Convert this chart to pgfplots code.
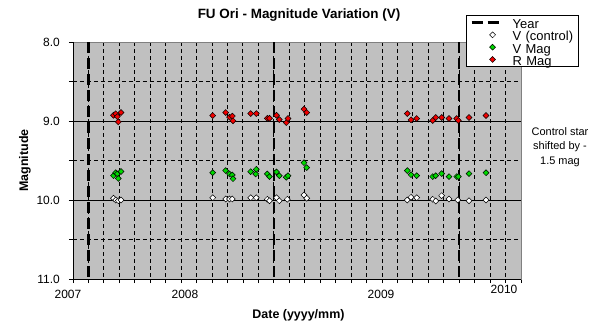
\documentclass[border=0pt]{standalone}
\usepackage{fontspec}
\setmainfont{Liberation Sans}
\usepackage{pgfplots}
\pgfplotsset{compat=1.18}
\definecolor{bggray}{RGB}{192,192,192}
\definecolor{vgreen}{RGB}{0,215,0}
\definecolor{rred}{RGB}{240,0,0}
\definecolor{bordergray}{RGB}{128,128,128}
\pgfplotsset{myleg/.style={legend image code/.code={\draw[mark repeat=2,mark phase=2,##1] plot coordinates {(0bp,0bp) (21bp,0bp) (27bp,0bp)};}}}
\begin{document}
\begin{tikzpicture}
\path[use as bounding box] (-73bp,-45bp) rectangle (525bp,279bp);
\begin{axis}[
  at={(0,0)}, anchor=south west,
  scale only axis, width=448bp, height=237bp,
  xmin=-1, xmax=28, ymin=8, ymax=11, y dir=reverse,
  clip=false,
  axis background/.style={fill=bggray},
  axis line style={draw=bordergray, line width=0.8bp},
  tick align=outside,
  xtick={-1,0,...,28},
  xticklabels={},
  ytick={8,9,10,11},
  yticklabels={8.0,9.0,10.0,11.0},
  minor ytick={8.5,9.5,10.5},
  xmajorgrids, yminorgrids,
  major grid style={black, line width=0.9bp, dash pattern=on 4bp off 3bp},
  minor grid style={black, line width=0.9bp, dash pattern=on 4bp off 3bp},
  extra y ticks={9,10},
  extra y tick labels={},
  extra y tick style={ymajorgrids=true, major grid style={black, solid, line width=0.9bp}},
  major tick length=4bp, minor tick length=4bp,
  tick style={black, line width=0.8bp},
  ytick pos=left, xtick pos=bottom,
  yticklabel style={font=\fontsize{12}{12}\selectfont, inner sep=0pt, anchor=east, xshift=-9bp},
  /pgf/number format/assume math mode=true,
  title={FU Ori - Magnitude Variation (V)},
  title style={font=\bfseries\fontsize{13.5}{13.5}\selectfont, at={(axis description cs:0.5045,1.0759)}, anchor=base, inner sep=0pt},
  xlabel={Date (yyyy/mm)},
  xlabel style={font=\bfseries\fontsize{12.5}{12.5}\selectfont, at={(axis description cs:0.5033,-0.1646)}, anchor=base, inner sep=0pt},
  ylabel={Magnitude},
  ylabel style={font=\bfseries\fontsize{12.5}{12.5}\selectfont, at={(axis description cs:-0.1004,0.5)}, anchor=base, inner sep=0pt},
  legend style={at={(axis description cs:0.8772,1.1139)}, anchor=north west, draw=black, line width=0.8bp, fill=white,
    font=\fontsize{13}{13}\selectfont, inner xsep=4bp, inner ysep=1bp, row sep=0pt, column sep=13bp,
    nodes={inner sep=0pt, text height=12bp, text depth=0.3bp, text width=62bp, align=left}},
  legend cell align=left,
  myleg,
]
\addplot[black, line width=2.3bp, dash pattern=on 11bp off 5bp, myleg] coordinates {(0,8) (0,11)};
\addlegendentry{Year}
\addplot[black, line width=2.3bp, dash pattern=on 11bp off 5bp, forget plot] coordinates {(12,8) (12,11)};
\addplot[black, line width=2.3bp, dash pattern=on 11bp off 5bp, forget plot] coordinates {(24,8) (24,11)};

\addplot[only marks, mark=square*, mark size=2.1bp, mark options={rotate=45, fill=white, draw=black, line width=0.5bp}, myleg]
coordinates {
(1.622,9.978) (1.764,10.000) (1.932,10.009) (2.107,10.000)
(8.043,9.971) (8.885,9.987) (9.131,9.987) (9.312,9.987) (10.503,9.971) (10.866,9.971) (11.578,9.991) (11.720,10.009) (12.173,9.971) (12.354,10.009) (12.872,9.991) (13.953,9.937) (14.128,9.978)
(20.640,10.000) (20.880,9.966) (21.249,9.971) (22.285,9.991) (22.479,10.013) (22.867,9.945) (23.340,9.987) (23.903,10.000) (24.634,10.009) (25.735,10.000)
};
\addlegendentry{V (control)}

\addplot[only marks, mark=square*, mark size=2.1bp, mark options={rotate=45, fill=vgreen, draw=black, line width=0.5bp}, myleg]
coordinates {
(1.622,9.692) (1.764,9.654) (1.868,9.670) (1.932,9.727) (2.107,9.639)
(8.043,9.654) (8.885,9.628) (9.131,9.670) (9.312,9.683) (9.357,9.730) (10.503,9.641) (10.827,9.670) (10.866,9.611) (11.578,9.670) (11.720,9.704) (12.173,9.645) (12.354,9.692) (12.808,9.712) (12.918,9.692) (13.953,9.527) (14.128,9.590)
(20.640,9.628) (20.880,9.679) (21.249,9.692) (22.285,9.704) (22.479,9.692) (22.867,9.666) (23.340,9.704) (23.838,9.704) (23.942,9.704) (24.634,9.666) (25.735,9.654)
};
\addlegendentry{V Mag}

\addplot[only marks, mark=square*, mark size=2.1bp, mark options={rotate=45, fill=rred, draw=black, line width=0.5bp}, myleg]
coordinates {
(1.622,8.928) (1.764,8.909) (1.868,8.944) (1.932,9.011) (2.107,8.893)
(8.043,8.931) (8.885,8.893) (9.131,8.951) (9.312,8.938) (9.357,8.998) (10.503,8.906) (10.866,8.906) (11.578,8.966) (11.720,8.966) (12.173,8.928) (12.354,8.982) (12.808,9.020) (12.918,8.969) (13.953,8.850) (14.128,8.893)
(20.640,8.906) (20.880,8.985) (21.249,8.969) (22.285,8.994) (22.479,8.956) (22.867,8.956) (23.340,8.969) (23.838,8.969) (23.942,8.994) (24.634,8.956) (25.735,8.931)
};
\addlegendentry{R Mag}

\draw[black, line width=0.9bp] (axis description cs:0,1) -- (axis description cs:0,0) -- (axis description cs:1,0);
\end{axis}
\begin{scope}[every node/.style={font=\fontsize{12}{12}\selectfont, inner sep=0pt, anchor=base}]
\node at (-5bp,-19bp) {2007};
\node at (112bp,-19bp) {2008};
\node at (308bp,-19bp) {2009};
\node at (431bp,-14bp) {2010};
\end{scope}
\begin{scope}[every node/.style={font=\fontsize{11}{11}\selectfont, inner sep=0pt, anchor=base}]
\node at (487bp,143bp) {Control star};
\node at (487bp,129bp) {shifted by -};
\node at (487bp,114bp) {1.5 mag};
\end{scope}
\end{tikzpicture}
\end{document}
